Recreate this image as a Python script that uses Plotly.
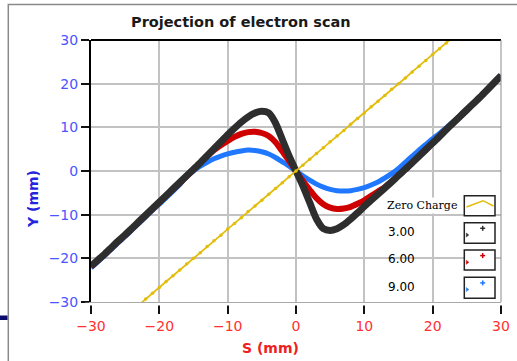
import plotly.graph_objects as go

# ---------------- data ----------------
s_mm = list(range(-30, 31))

y_charge_3 = [-21.8, -20.4, -19.0, -17.5, -16.0, -14.6, -13.1, -11.6, -10.1, -8.6,
              -7.1, -5.6, -4.1, -2.6, -1.1, 0.4, 1.9, 3.5, 5.1, 6.7,
              8.3, 9.8, 11.2, 12.4, 13.3, 13.7, 13.3, 11.0, 7.2, 3.4,
              0.0,
              -3.4, -7.2, -11.0, -13.2, -13.6, -13.2, -12.3, -11.0, -9.6, -8.1,
              -6.7, -5.3, -3.9, -2.5, -1.0, 0.4, 1.9, 3.4, 4.9, 6.4,
              7.9, 9.5, 11.0, 12.5, 14.0, 15.5, 17.0, 18.6, 20.2, 21.8]

y_charge_6 = [-21.9, -20.5, -19.1, -17.6, -16.1, -14.7, -13.2, -11.7, -10.2, -8.7,
              -7.2, -5.7, -4.2, -2.7, -1.2, 0.3, 1.9, 3.4, 4.8, 5.9,
              6.9, 7.8, 8.5, 8.9, 9.0, 8.7, 8.0, 6.6, 4.5, 2.3,
              0.0,
              -2.3, -4.3, -6.2, -7.6, -8.4, -8.7, -8.6, -8.2, -7.5, -6.7,
              -5.7, -4.7, -3.7, -2.4, -1.0, 0.4, 1.9, 3.4, 4.9, 6.4,
              7.9, 9.5, 11.0, 12.5, 14.0, 15.5, 17.0, 18.6, 20.2, 21.8]

y_charge_9 = [-22.2, -20.8, -19.4, -17.9, -16.4, -15.0, -13.5, -12.0, -10.5, -9.0,
              -7.6, -6.1, -4.6, -3.1, -1.2, 0.0, 1.1, 2.0, 2.8, 3.4,
              3.9, 4.3, 4.6, 4.8, 4.7, 4.4, 3.9, 3.1, 2.1, 1.1,
              0.0,
              -1.1, -2.1, -3.0, -3.7, -4.2, -4.5, -4.6, -4.5, -4.2, -3.8,
              -3.2, -2.5, -1.6, -0.6, 0.6, 2.0, 3.4, 4.8, 6.1, 7.4,
              8.6, 9.9, 11.3, 12.7, 14.2, 15.7, 17.2, 18.8, 20.4, 22.0]

s_zero = [-23, -22, -21, -20, -19, -18, -17, -16, -15, -14, -13, -12, -11, -10, -9, -8,
          -7, -6, -5, -4, -3, -2, -1, 0, 1, 2, 3, 4, 5, 6, 7, 8, 9, 10, 11, 12, 13,
          14, 15, 16, 17, 18, 19, 20, 21, 22, 23]
y_zero = [-30.7, -29.3, -28.0, -26.7, -25.3, -24.0, -22.7, -21.3, -20.0, -18.7, -17.3,
          -16.0, -14.7, -13.3, -12.0, -10.7, -9.3, -8.0, -6.7, -5.3, -4.0, -2.7, -1.3,
          0.0, 1.3, 2.7, 4.0, 5.3, 6.7, 8.0, 9.3, 10.7, 12.0, 13.3, 14.7, 16.0, 17.3,
          18.7, 20.0, 21.3, 22.7, 24.0, 25.3, 26.7, 28.0, 29.3, 30.7]

tick_vals = [-30, -20, -10, 0, 10, 20, 30]
legend_names = ["Zero Charge", "3.00", "6.00", "9.00"]
title_text = "Projection of electron scan"
x_title = "S (mm)"
y_title = "Y (mm)"

# ---------------- styling / layout ----------------
W, H = 517, 361
L, R, T, B = 91, 16, 40, 59
PW, PH = W - L - R, H - T - B


def PX(x):
    return (x - L) / PW


def PY(y):
    return (H - B - y) / PH


BLACK = "#2e2e2e"
RED = "#cf0000"
BLUE = "#1f78ff"
YELLOW = "#e2bd0c"

fig = go.Figure()
fig.add_trace(go.Scatter(x=s_mm, y=y_charge_9, mode="lines", name="9.00",
                         line=dict(color=BLUE, width=5, shape="spline", smoothing=0.6)))
fig.add_trace(go.Scatter(x=s_mm, y=y_charge_6, mode="lines", name="6.00",
                         line=dict(color=RED, width=6, shape="spline", smoothing=0.6)))
fig.add_trace(go.Scatter(x=s_mm, y=y_charge_3, mode="lines", name="3.00",
                         line=dict(color=BLACK, width=7, shape="spline", smoothing=0.6)))
fig.add_trace(go.Scatter(x=s_zero, y=y_zero, mode="lines+markers", name="Zero Charge",
                         line=dict(color=YELLOW, width=1.8),
                         marker=dict(color=YELLOW, size=3.5)))

tickfont = dict(family="DejaVu Sans", size=14)
fig.update_xaxes(range=[-30, 30], tickvals=tick_vals, ticks="outside", ticklen=11,
                 tickwidth=2, tickcolor="#111", showgrid=True, gridcolor="#c2c2c2",
                 gridwidth=1.5, zeroline=False, showline=True, linecolor="#8c8c8c",
                 linewidth=1, tickfont=dict(tickfont, color="#ff3030"), automargin=False)
fig.update_yaxes(range=[-30, 30], tickvals=tick_vals, ticks="outside", ticklen=8,
                 tickwidth=2, tickcolor="#111", showgrid=True, gridcolor="#c2c2c2",
                 gridwidth=1.5, zeroline=False, showline=True, linecolor="#000",
                 linewidth=2, tickfont=dict(tickfont, color="#4a55ff"), automargin=False)

shapes = []
# gap between x axis and its ticks
shapes.append(dict(type="rect", xref="paper", yref="paper", x0=PX(85), x1=PX(507),
                   y0=PY(302.8), y1=PY(305.6), fillcolor="white", line=dict(width=0),
                   layer="above"))
# top and right borders of plot area
shapes.append(dict(type="line", xref="paper", yref="paper", x0=0, x1=1, y0=1, y1=1,
                   line=dict(color="#000", width=2), layer="above"))
shapes.append(dict(type="line", xref="paper", yref="paper", x0=1, x1=1, y0=0, y1=1,
                   line=dict(color="#8c8c8c", width=1), layer="above"))
# outer frame
shapes.append(dict(type="path", xref="paper", yref="paper",
                   path=f"M {PX(8.3)} {PY(370)} L {PX(8.3)} {PY(4.5)} L {PX(530)} {PY(4.5)}",
                   line=dict(color="#8a8a8a", width=1.5), layer="above"))
shapes.append(dict(type="rect", xref="paper", yref="paper", x0=PX(-2), x1=PX(7.5),
                   y0=PY(315.5), y1=PY(320), fillcolor="#0b0b6e", line=dict(width=0),
                   layer="above"))

# legend boxes (text on left, sample box on right)
box_rows = [(195.7, 215.7), (222.7, 243.3), (250, 270), (277.3, 298.3)]
for (y0, y1) in box_rows:
    shapes.append(dict(type="rect", xref="paper", yref="paper", x0=PX(464.3), x1=PX(495),
                       y0=PY(y1), y1=PY(y0), fillcolor="white",
                       line=dict(color="#222", width=1.5), layer="above"))
# zero charge sample
shapes.append(dict(type="path", xref="paper", yref="paper",
                   path=f"M {PX(466.5)} {PY(207)} L {PX(483)} {PY(200.7)} L {PX(493.5)} {PY(206)}",
                   line=dict(color=YELLOW, width=1.5), layer="above"))
# point samples
for (y0, y1), col in zip(box_rows[1:], [BLACK, RED, BLUE]):
    cx, cy = 482.7, y0 + 5.6
    shapes.append(dict(type="line", xref="paper", yref="paper", x0=PX(cx - 2.5), x1=PX(cx + 2.5),
                       y0=PY(cy), y1=PY(cy), line=dict(color=col, width=1.5), layer="above"))
    shapes.append(dict(type="line", xref="paper", yref="paper", x0=PX(cx), x1=PX(cx),
                       y0=PY(cy - 2.5), y1=PY(cy + 2.5), line=dict(color=col, width=1.5), layer="above"))
    tx, ty = 466.3, y0 + 12.3
    shapes.append(dict(type="path", xref="paper", yref="paper",
                       path=f"M {PX(tx)} {PY(ty - 2)} L {PX(tx + 2.5)} {PY(ty)} L {PX(tx)} {PY(ty + 2)} Z",
                       fillcolor=col, line=dict(color=col, width=0.5), layer="above"))

annotations = [
    dict(text=f"<b>{title_text}</b>", x=PX(241), y=PY(22), xref="paper", yref="paper",
         showarrow=False, font=dict(family="DejaVu Sans", size=14.5, color="#1a1a1a"),
         xanchor="center", yanchor="middle"),
    dict(text=f"<b>{x_title}</b>", x=PX(270), y=PY(347.5), xref="paper", yref="paper",
         showarrow=False, font=dict(family="DejaVu Sans", size=14, color="#ee2020"),
         xanchor="center", yanchor="middle"),
    dict(text=f"<b>{y_title}</b>", x=PX(33), y=PY(199), xref="paper", yref="paper",
         showarrow=False, textangle=-90,
         font=dict(family="DejaVu Sans", size=14, color="#2424dd"),
         xanchor="center", yanchor="middle"),
    dict(text=legend_names[0], x=PX(459), y=PY(205.5), xref="paper", yref="paper",
         showarrow=False, font=dict(family="DejaVu Serif", size=11, color="#000"),
         xanchor="right", yanchor="middle", bgcolor="white", borderpad=1),
]
for name, yc in zip(legend_names[1:], [232, 259, 286.7]):
    annotations.append(dict(text=name, x=PX(416.5), y=PY(yc), xref="paper", yref="paper",
                            showarrow=False,
                            font=dict(family="DejaVu Sans", size=12, color="#000"),
                            xanchor="right", yanchor="middle"))

fig.update_layout(width=W, height=H, autosize=False,
                  margin=dict(l=L, r=R, t=T, b=B, pad=0),
                  paper_bgcolor="white", plot_bgcolor="white", showlegend=False,
                  shapes=shapes, annotations=annotations)

# remove the browser's default 8px page margin so the figure fills the window
fig.write_html("out.html", config={"displayModeBar": False},
               post_script="document.body.style.margin='0';document.body.style.overflow='hidden';")
